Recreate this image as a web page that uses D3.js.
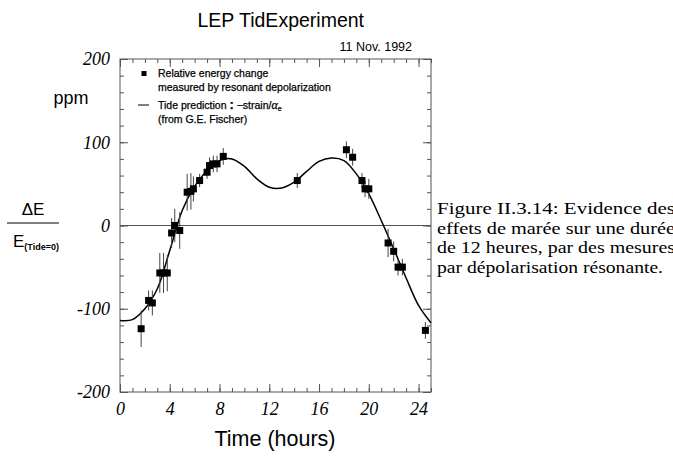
<!DOCTYPE html>
<html><head><meta charset="utf-8">
<script src="https://cdn.jsdelivr.net/npm/d3@7"></script>
<style>body{margin:0;background:#fff}svg{display:block}</style>
</head><body>
<svg id="c" width="673" height="462"></svg>
<script>
// measured points: time (hours), relative energy change (ppm), error half-length (ppm)
const hours = [1.7, 2.3, 2.6, 3.2, 3.5, 3.8, 4.15, 4.4, 4.8, 5.4, 5.7, 5.9, 6.4, 7.0, 7.2, 7.5, 7.8, 8.3, 14.25, 18.2, 18.7, 19.45, 19.7, 20.0, 21.55, 22.0, 22.35, 22.7, 24.55];
const ppm   = [-124, -90, -93, -57, -57, -57, -9, 0, -6, 40, 41, 44, 54, 64, 72, 74, 74, 83, 54, 91, 82, 54, 44, 44, -21, -31, -50, -50, -126];
const errs  = [22, 12, 15, 24, 24, 22, 18, 20, 22, 22, 22, 15, 8, 8, 10, 10, 10, 10, 9, 10, 10, 9, 10, 12, 17, 12, 10, 10, 10];
// tide prediction curve
const tideHours = [0,1,2,3,4,5,6,7,8,9,10,11,12,13,14,15,16,17,18,19,20,21,22,23,24,25];
const tidePpm   = [-114,-113,-100,-76,-30,18,47,66,78,80,71,56,46,45,52,65,77,81,78,62,38,6,-28,-63,-96,-117];
const xTicks = [0,4,8,12,16,20,24];
const yTicks = [-200,-100,0,100,200];
const captionLines = ["Figure II.3.14:  Evidence des", "effets de marée sur une durée", "de 12 heures, par des mesures", "par dépolarisation résonante."];

const svg = d3.select("#c");
const x = d3.scaleLinear().domain([0,25]).range([120,431]);
const y = d3.scaleLinear().domain([-200,200]).range([392,59]);
const frameCol = "#555";

// frame
svg.append("rect").attr("x",120).attr("y",59).attr("width",311).attr("height",333)
  .attr("fill","none").attr("stroke",frameCol).attr("stroke-width",1);

function styleAxis(g){ g.select(".domain").remove(); g.selectAll("line").attr("stroke",frameCol); }
const minorX = d3.range(0,26,1), minorY = d3.range(-200,201,20);
// bottom
svg.append("g").attr("transform","translate(0,392)").call(d3.axisBottom(x).tickValues(minorX).tickSize(-4).tickFormat("")).call(styleAxis);
svg.append("g").attr("transform","translate(0,392)").call(d3.axisBottom(x).tickValues(xTicks).tickSize(-8).tickPadding(10).tickFormat(d3.format("d"))).call(styleAxis)
  .selectAll("text").attr("font-family","Liberation Serif").attr("font-style","italic").attr("font-size",18).attr("fill","#000");
// top
svg.append("g").attr("transform","translate(0,59)").call(d3.axisTop(x).tickValues(minorX).tickSize(-4).tickFormat("")).call(styleAxis);
svg.append("g").attr("transform","translate(0,59)").call(d3.axisTop(x).tickValues(xTicks).tickSize(-8).tickFormat("")).call(styleAxis);
// left
svg.append("g").attr("transform","translate(120,0)").call(d3.axisLeft(y).tickValues(minorY).tickSize(-4).tickFormat("")).call(styleAxis);
svg.append("g").attr("transform","translate(120,0)").call(d3.axisLeft(y).tickValues(yTicks).tickSize(-8).tickPadding(10).tickFormat(d=>d<0?"-"+Math.abs(d):String(d))).call(styleAxis)
  .selectAll("text").attr("font-family","Liberation Serif").attr("font-style","italic").attr("font-size",18).attr("fill","#000");
// right
svg.append("g").attr("transform","translate(431,0)").call(d3.axisRight(y).tickValues(minorY).tickSize(-4).tickFormat("")).call(styleAxis);
svg.append("g").attr("transform","translate(431,0)").call(d3.axisRight(y).tickValues(yTicks).tickSize(-8).tickFormat("")).call(styleAxis);

// zero line
svg.append("line").attr("x1",x(0)).attr("x2",x(25)).attr("y1",y(0)).attr("y2",y(0)).attr("stroke",frameCol).attr("stroke-width",1);

// tide curve
const line = d3.line().x((d,i)=>x(tideHours[i])).y(d=>y(d)).curve(d3.curveCatmullRom.alpha(0.5));
svg.append("path").datum(tidePpm).attr("d",line).attr("fill","none").attr("stroke","#000").attr("stroke-width",1.5);

// error bars and markers
const pts = hours.map((h,i)=>({h, v:ppm[i], e:errs[i]}));
svg.append("g").selectAll("line").data(pts).join("line")
  .attr("x1",d=>x(d.h)).attr("x2",d=>x(d.h)).attr("y1",d=>y(d.v-d.e)).attr("y2",d=>y(d.v+d.e))
  .attr("stroke","#444").attr("stroke-width",1);
svg.append("g").selectAll("rect").data(pts).join("rect")
  .attr("x",d=>x(d.h)-3.5).attr("y",d=>y(d.v)-3.5).attr("width",7).attr("height",7).attr("fill","#000");

// legend
svg.append("rect").attr("x",141.5).attr("y",71).attr("width",5).attr("height",5).attr("fill","#000");
svg.append("line").attr("x1",138).attr("x2",149).attr("y1",105).attr("y2",105).attr("stroke","#000").attr("stroke-width",1);
const lg = svg.append("g").attr("font-family","Liberation Sans").attr("font-size",10.5).attr("fill","#000")
  .attr("stroke","#000").attr("stroke-width",0.25);
lg.append("text").attr("x",158).attr("y",77).text("Relative energy change");
lg.append("text").attr("x",158).attr("y",91).text("measured by resonant depolarization");
const t3 = lg.append("text").attr("x",158).attr("y",109);
t3.append("tspan").text("Tide prediction ");
t3.append("tspan").attr("font-weight","bold").attr("font-size",13).text(":");
t3.append("tspan").text(" −strain/");
t3.append("tspan").attr("font-family","Liberation Serif").attr("font-style","italic").attr("font-size",12).text("α");
t3.append("tspan").attr("font-size",7).attr("dy",2).text("e");
lg.append("text").attr("x",158).attr("y",123).text("(from G.E. Fischer)");

// titles
svg.append("text").attr("x",364).attr("y",27).attr("text-anchor","end").attr("font-family","Liberation Sans").attr("font-size",19.5).text("LEP TidExperiment");
svg.append("text").attr("x",412).attr("y",51).attr("text-anchor","end").attr("font-family","Liberation Sans").attr("font-size",12.5).text("11 Nov. 1992");
svg.append("text").attr("x",275).attr("y",446).attr("text-anchor","middle").attr("font-family","Liberation Sans").attr("font-size",21.5).text("Time (hours)");
svg.append("text").attr("x",71).attr("y",104).attr("text-anchor","middle").attr("font-family","Liberation Sans").attr("font-size",18).text("ppm");

// y label fraction
svg.append("text").attr("x",33).attr("y",215).attr("text-anchor","middle").attr("font-family","Liberation Sans").attr("font-size",17).text("ΔE");
svg.append("line").attr("x1",7).attr("x2",59).attr("y1",223).attr("y2",223).attr("stroke","#000").attr("stroke-width",1);
const ef = svg.append("text").attr("x",13).attr("y",247).attr("font-family","Liberation Sans").attr("font-size",17);
ef.append("tspan").text("E");
ef.append("tspan").attr("font-size",9).attr("dy",3).attr("font-weight","bold").text("(Tide=0)");

// caption
const cap = svg.append("g").attr("font-family","Liberation Serif").attr("font-size",17.5).attr("fill","#000")
  .style("white-space","pre");
captionLines.forEach((s,i)=>{
  cap.append("text").attr("x",437).attr("y",214+i*19.5).text(s)
    .attr("textLength", i<3 ? 238 : 226).attr("lengthAdjust","spacingAndGlyphs");
});
</script>
</body></html>
